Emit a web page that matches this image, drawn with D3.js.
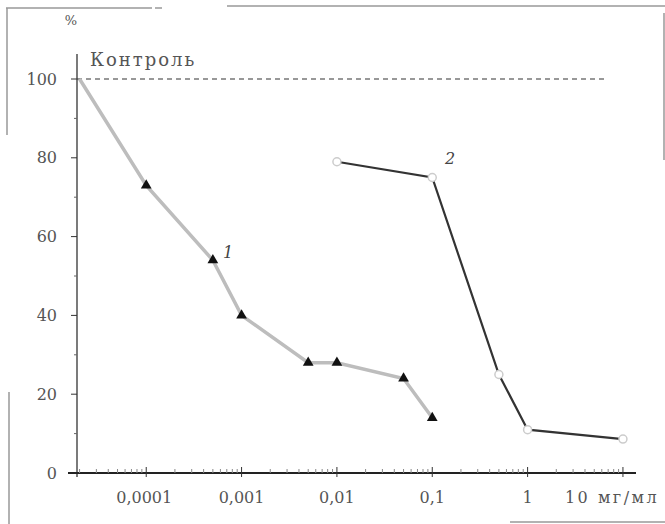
<!DOCTYPE html>
<html>
<head>
<meta charset="utf-8">
<script src="https://cdn.jsdelivr.net/npm/d3@7"></script>
<style>
  body { margin: 0; background: #fff; }
  svg { display: block; }
</style>
</head>
<body>
<svg width="665" height="524"></svg>
<script>
// concentration, mg/ml
const dose1 = [0.00002, 0.0001, 0.0005, 0.001, 0.005, 0.01, 0.05, 0.1];
const value1 = [100, 73, 54, 40, 28, 28, 24, 14];
const dose2 = [0.01, 0.1, 0.5, 1, 10];
const value2 = [79, 75, 25, 11, 8.6];
const controlLevel = 100;
const xTickValues = [0.0001, 0.001, 0.01, 0.1, 1];
const xTickLabels = ["0,0001", "0,001", "0,01", "0,1", "1"];
const yTickValues = [0, 20, 40, 60, 80, 100];

const font = "'DejaVu Serif', serif";
const svg = d3.select("svg")
  .attr("font-family", font);
const x0 = 77, x1 = 636, y0 = 473, yTop = 79;

const x = d3.scaleLog()
  .domain([Math.pow(10, -4.726), Math.pow(10, 1.137)])
  .range([x0, x1]);
const y = d3.scaleLinear().domain([0, 100]).range([y0, yTop]);

// scan border scraps
const border = svg.append("g").attr("stroke", "#999").attr("stroke-width", 1.5).attr("fill", "none");
border.append("path").attr("d", "M6,8H152M155,8H162M227,6H665");
border.append("path").attr("d", "M7,8V135M9,392V524M664,13V160M510,522H665");

// y axis
const yAxis = svg.append("g");
yAxis.append("line").attr("x1", x0).attr("x2", x0).attr("y1", 54).attr("y2", 477)
  .attr("stroke", "#333").attr("stroke-width", 1.3);
yAxis.selectAll("line.minor")
  .data(d3.range(10, 100, 20))
  .join("line")
  .attr("class", "minor")
  .attr("x1", x0 - 3).attr("x2", x0)
  .attr("y1", d => y(d)).attr("y2", d => y(d))
  .attr("stroke", "#666");
yAxis.selectAll("line.major")
  .data(yTickValues)
  .join("line")
  .attr("class", "major")
  .attr("x1", x0 - 6).attr("x2", x0)
  .attr("y1", d => y(d)).attr("y2", d => y(d))
  .attr("stroke", "#333");
yAxis.selectAll("text")
  .data(yTickValues)
  .join("text")
  .attr("x", 57)
  .attr("y", d => y(d))
  .attr("dy", "0.35em")
  .attr("text-anchor", "end")
  .attr("font-size", 16)
  .attr("fill", "#555")
  .text(d => d);
svg.append("text").attr("x", 71).attr("y", 25).attr("text-anchor", "middle")
  .attr("font-size", 13).attr("fill", "#555").text("%");

// x axis
const xAxis = svg.append("g");
xAxis.append("line").attr("x1", 68).attr("x2", x1).attr("y1", y0).attr("y2", y0)
  .attr("stroke", "#222").attr("stroke-width", 2);
const minor = [];
for (let e = -5; e <= 1; e++) {
  for (let m = 2; m <= 9; m++) {
    const v = m * Math.pow(10, e);
    if (v > x.domain()[0] && v < x.domain()[1]) minor.push(v);
  }
}
xAxis.selectAll("line.minor")
  .data(minor)
  .join("line")
  .attr("class", "minor")
  .attr("x1", d => x(d)).attr("x2", d => x(d))
  .attr("y1", y0 - 4).attr("y2", y0)
  .attr("stroke", "#888");
xAxis.selectAll("line.major")
  .data(xTickValues.concat([10]))
  .join("line")
  .attr("class", "major")
  .attr("x1", d => x(d)).attr("x2", d => x(d))
  .attr("y1", y0 - 6).attr("y2", y0 + 4)
  .attr("stroke", "#333");
xAxis.selectAll("text.tick")
  .data(xTickValues)
  .join("text")
  .attr("class", "tick")
  .attr("x", (d, i) => x(d) - (i === 0 ? 2 : 0))
  .attr("y", 503)
  .attr("text-anchor", "middle")
  .attr("font-size", 16)
  .attr("fill", "#555")
  .text((d, i) => xTickLabels[i]);
xAxis.append("text")
  .attr("x", x(10) - 58)
  .attr("y", 503)
  .attr("font-size", 16)
  .attr("letter-spacing", 2.5)
  .attr("fill", "#555")
  .text("10 мг/мл");

// control line
svg.append("line")
  .attr("x1", x0).attr("x2", 608)
  .attr("y1", y(controlLevel)).attr("y2", y(controlLevel))
  .attr("stroke", "#333").attr("stroke-width", 1.2)
  .attr("stroke-dasharray", "5,4");
svg.append("text").attr("x", 90).attr("y", 66).attr("font-size", 18)
  .attr("letter-spacing", 2).attr("fill", "#555").text("Контроль");

const line = d3.line().x(d => x(d[0])).y(d => y(d[1]));
const s1 = dose1.map((d, i) => [d, value1[i]]);
const s2 = dose2.map((d, i) => [d, value2[i]]);

// series 1
svg.append("path").datum(s1)
  .attr("d", line)
  .attr("fill", "none")
  .attr("stroke", "#bdbdbd")
  .attr("stroke-width", 3.5);
svg.append("g").selectAll("path")
  .data(s1.slice(1))
  .join("path")
  .attr("transform", d => `translate(${x(d[0])},${y(d[1])})`)
  .attr("d", d3.symbol(d3.symbolTriangle, 50))
  .attr("fill", "#111");

// series 2
svg.append("path").datum(s2)
  .attr("d", line)
  .attr("fill", "none")
  .attr("stroke", "#333")
  .attr("stroke-width", 2.2);
svg.append("g").selectAll("circle")
  .data(s2)
  .join("circle")
  .attr("cx", d => x(d[0]))
  .attr("cy", d => y(d[1]))
  .attr("r", 4)
  .attr("fill", "#fff")
  .attr("stroke", "#ccc")
  .attr("stroke-width", 1.5);

// curve labels
svg.append("text").attr("x", 228).attr("y", 258).attr("font-size", 16)
  .attr("font-style", "italic").attr("text-anchor", "middle").attr("fill", "#444").text("1");
svg.append("text").attr("x", 450).attr("y", 164).attr("font-size", 16)
  .attr("font-style", "italic").attr("text-anchor", "middle").attr("fill", "#444").text("2");
</script>
</body>
</html>
